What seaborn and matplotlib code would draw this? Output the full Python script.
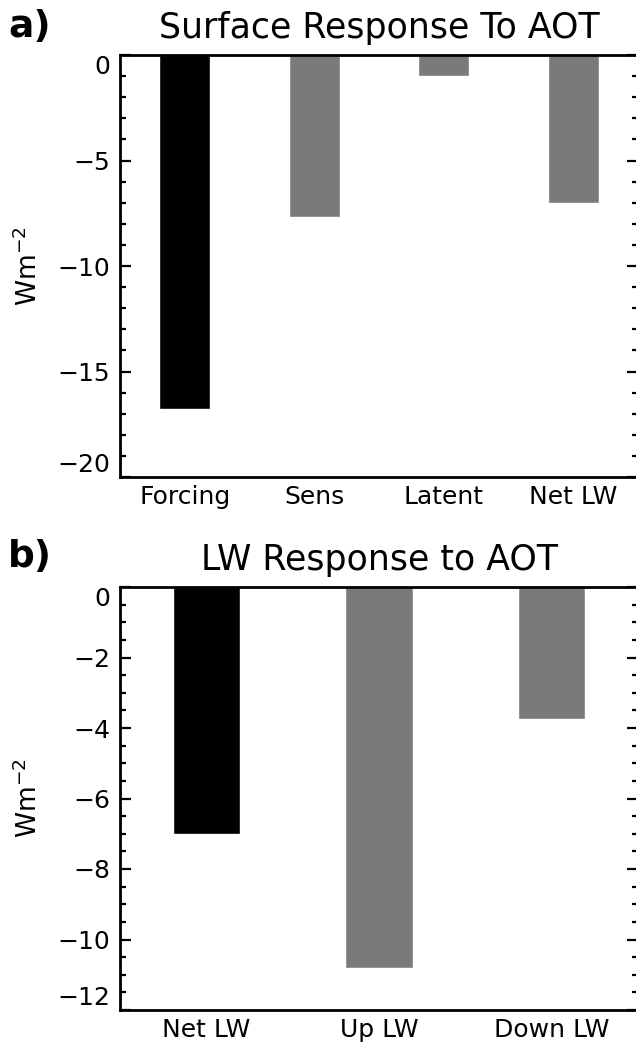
import matplotlib
matplotlib.use("Agg")
import matplotlib.pyplot as plt
import seaborn as sns
import pandas as pd
from matplotlib.ticker import MultipleLocator

# Data
cats_a = ["Forcing", "Sens", "Latent", "Net LW"]
vals_a = [-16.8, -7.7, -1.0, -7.0]
cats_b = ["Net LW", "Up LW", "Down LW"]
vals_b = [-7.0, -10.8, -3.75]
colors_a = ["#000000", "#7a7a7a", "#7a7a7a", "#7a7a7a"]
colors_b = ["#000000", "#7a7a7a", "#7a7a7a"]
title_a = "Surface Response To AOT"
title_b = "LW Response to AOT"

sns.set_theme(style="ticks")
plt.rcParams['font.family'] = ['DejaVu Sans']
plt.rcParams['mathtext.default'] = 'regular'
plt.rcParams['text.color'] = 'black'
plt.rcParams['axes.labelcolor'] = 'black'
plt.rcParams['xtick.color'] = 'black'
plt.rcParams['ytick.color'] = 'black'

W, H = 636, 1046
fig = plt.figure(figsize=(W / 100, H / 100), dpi=100)

def frac_rect(left, top, right, bottom):
    return [left / W, 1 - bottom / H, (right - left) / W, (bottom - top) / H]

ax_a = fig.add_axes(frac_rect(120, 55, 638, 477))
ax_b = fig.add_axes(frac_rect(120, 587, 638, 1010))

def draw(ax, cats, vals, colors, ymin, major, minor, title):
    df = pd.DataFrame({"cat": cats, "val": vals})
    sns.barplot(data=df, x="cat", y="val", hue="cat", palette=colors,
                legend=False, width=0.39, saturation=1, ax=ax, dodge=False)
    ax.set_xlim(-0.5, len(cats) - 0.5)
    ax.set_ylim(ymin, 0)
    ax.yaxis.set_major_locator(MultipleLocator(major))
    ax.yaxis.set_minor_locator(MultipleLocator(minor))
    ax.tick_params(axis="y", which="both", direction="in", left=True, right=True,
                   labelsize=18, pad=7, width=1.6, colors="black")
    ax.tick_params(axis="y", which="major", length=8)
    ax.tick_params(axis="y", which="minor", length=4)
    ax.tick_params(axis="x", which="both", bottom=False, top=False, length=0,
                   labelsize=18, pad=6, colors="black")
    for s in ax.spines.values():
        s.set_linewidth(2)
        s.set_color("black")
    ax.set_xlabel("")
    ax.set_ylabel("Wm$^{-2}$", fontsize=19, color="black")
    ax.yaxis.set_label_coords(-0.148, 0.5)
    ax.set_title(title, fontsize=25, pad=12, color="black")
    fig.canvas.draw()
    labels = ax.get_yticklabels()
    ticks = ax.get_yticks()
    for t, lab in zip(ticks, labels):
        if abs(t - 0) < 1e-9:
            lab.set_va("top")
        elif abs(t - ymin) < 1e-9:
            lab.set_va("bottom")

draw(ax_a, cats_a, vals_a, colors_a, -20, 5, 1, title_a)
draw(ax_b, cats_b, vals_b, colors_b, -12, 2, 0.5, title_b)

fig.text(8 / W, 1 - 27 / H, "a)", fontsize=27, fontweight="bold", va="center", ha="left")
fig.text(8 / W, 1 - 557 / H, "b)", fontsize=27, fontweight="bold", va="center", ha="left")

fig.savefig("out.png", dpi=100)
